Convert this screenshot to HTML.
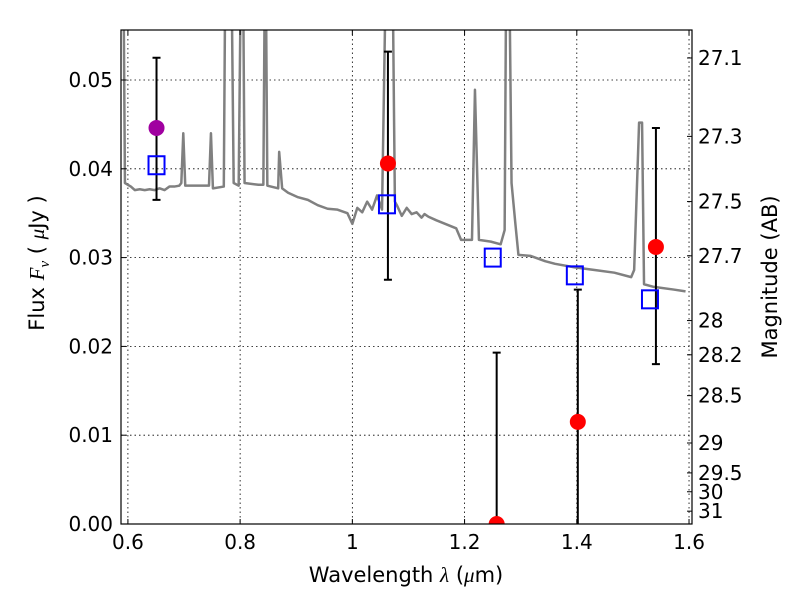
<!DOCTYPE html>
<html><head><meta charset="utf-8"><style>
body{margin:0;background:#fff;}
svg text{font-family:"DejaVu Sans","Liberation Sans",sans-serif;fill:#000;}
</style></head><body>
<svg id="chart" width="800" height="600" xmlns="http://www.w3.org/2000/svg">
<defs><clipPath id="clip"><rect x="121" y="30" width="571" height="494"/></clipPath></defs>
<g id="grid"></g>
<g id="spec" clip-path="url(#clip)"></g>
<g id="marks" clip-path="url(#clip)"></g>
<rect x="121" y="30" width="571" height="494" fill="none" stroke="#000" stroke-width="1.2"/>
<g id="axes"></g>
<text x="406" y="582" font-size="21" text-anchor="middle">Wavelength  <tspan font-style="italic" font-family="Liberation Serif">λ</tspan> (<tspan font-style="italic" font-family="Liberation Serif">μ</tspan>m)</text>
<text transform="translate(44,263) rotate(-90)" font-size="21" text-anchor="middle">Flux  <tspan font-style="italic" font-family="Liberation Serif">F<tspan font-size="15" dy="5">ν</tspan></tspan><tspan dy="-5">  ( </tspan><tspan font-style="italic" font-family="Liberation Serif">μ</tspan>Jy )</text>
<text transform="translate(777,277) rotate(-90)" font-size="21" text-anchor="middle">Magnitude (AB)</text>
</svg>
<script>
const xTicks=[0.6,0.8,1.0,1.2,1.4,1.6];
const xTickLabels=["0.6","0.8","1","1.2","1.4","1.6"];
const yTicks=[0,0.01,0.02,0.03,0.04,0.05];
const yTickLabels=["0.00","0.01","0.02","0.03","0.04","0.05"];
const magTicks=[27.1,27.3,27.5,27.7,28,28.2,28.5,29,29.5,30,31];
const magLabels=["27.1","27.3","27.5","27.7","28","28.2","28.5","29","29.5","30","31"];
const specLam=[0.5877,0.5912,0.5947,0.6,0.6053,0.6123,0.6211,0.630,0.6388,0.6476,0.6564,0.6652,0.6740,0.6828,0.6916,0.6952,0.6987,0.7022,0.7181,0.7357,0.7445,0.748,0.7515,0.7709,0.7744,0.7833,0.7885,0.7974,0.8026,0.8044,0.8079,0.8326,0.8414,0.8449,0.8485,0.8678,0.8696,0.8749,0.8855,0.9031,0.9207,0.9383,0.9559,0.9736,0.9912,1.0,1.0088,1.0176,1.0264,1.0352,1.044,1.0529,1.0617,1.0652,1.0705,1.0758,1.0793,1.0881,1.0969,1.1057,1.1145,1.1233,1.1286,1.1357,1.1498,1.185,1.1938,1.2132,1.2185,1.2256,1.2467,1.2643,1.2714,1.2749,1.2784,1.2837,1.2907,1.296,1.3172,1.3436,1.3612,1.3965,1.4317,1.4670,1.4969,1.5022,1.511,1.5163,1.5198,1.5374,1.5727,1.5938];
const specFlux=[0.07,0.07,0.0384,0.0382,0.0380,0.0376,0.0377,0.0376,0.0377,0.0376,0.0378,0.0376,0.0380,0.0380,0.0381,0.0384,0.0440,0.0381,0.0381,0.0381,0.0381,0.0440,0.0378,0.0380,0.07,0.07,0.0384,0.0381,0.07,0.07,0.0384,0.0382,0.0382,0.07,0.0381,0.0378,0.0419,0.0378,0.0373,0.0368,0.0365,0.0359,0.0355,0.0354,0.0350,0.0338,0.0356,0.0351,0.0363,0.0354,0.0370,0.0354,0.07,0.07,0.07,0.0363,0.0359,0.0347,0.0356,0.0349,0.0351,0.0345,0.0349,0.0346,0.0342,0.0333,0.0320,0.0320,0.0489,0.0320,0.0318,0.0315,0.0331,0.07,0.07,0.0384,0.0337,0.0303,0.0302,0.0296,0.0293,0.0289,0.0286,0.0283,0.0278,0.0286,0.0452,0.0452,0.0270,0.0267,0.0264,0.0262];
const modelLam=[0.651,1.0617,1.2502,1.3965,1.5304];
const modelFlux=[0.0404,0.0360,0.0300,0.0280,0.0253];
const obsLam=[0.651,1.0634,1.2572,1.4018,1.5410];
const obsFlux=[0.0446,0.0406,0.0,0.0115,0.0312];
const obsErrLo=[0.0365,0.0275,-0.01,-0.01,0.0180];
const obsErrHi=[0.0525,0.0532,0.0193,0.0264,0.0446];
const obsColor=["#a000a0","#ff0000","#ff0000","#ff0000","#ff0000"];

const X0=121,X1=692,Y0=524,Y1=30,xmin=0.5877,xmax=1.6053,ymin=0,ymax=0.05563;
const sx=v=>X0+(v-xmin)/(xmax-xmin)*(X1-X0);
const sy=v=>Y0-(v-ymin)/(ymax-ymin)*(Y0-Y1);
const magToFlux=m=>Math.pow(10,(23.9-m)/2.5);
const NS="http://www.w3.org/2000/svg";
function mk(tag,attrs,parent){const e=document.createElementNS(NS,tag);for(const k in attrs)e.setAttribute(k,attrs[k]);parent.appendChild(e);return e;}
const grid=document.getElementById('grid'),axes=document.getElementById('axes'),spec=document.getElementById('spec'),marks=document.getElementById('marks');
xTicks.forEach((t,i)=>{const x=sx(t);
 const g=mk('line',{x1:x,x2:x,y1:Y1,y2:Y0,stroke:'#000','stroke-dasharray':'1.5,3','stroke-width':0.8},grid);
 
 
 mk('line',{x1:x,x2:x,y1:Y0,y2:Y0-5,stroke:'#000'},axes);
 mk('line',{x1:x,x2:x,y1:Y1,y2:Y1+5,stroke:'#000'},axes);
 const tx=mk('text',{x:x,y:Y0+25,'font-size':20,'text-anchor':'middle'},axes);tx.textContent=xTickLabels[i];
 
 
});
yTicks.forEach((t,i)=>{const y=sy(t);
 const g=mk('line',{x1:X0,x2:X1,y1:y,y2:y,stroke:'#000','stroke-dasharray':'1.5,3','stroke-width':0.8},grid);
 
 
 mk('line',{x1:X0,x2:X0+5,y1:y,y2:y,stroke:'#000'},axes);
 const tx=mk('text',{x:X0-8,y:y+7,'font-size':20,'text-anchor':'end'},axes);tx.textContent=yTickLabels[i];
 
 
});
magTicks.forEach((m,i)=>{const y=sy(magToFlux(m));
 mk('line',{x1:X1-5,x2:X1,y1:y,y2:y,stroke:'#000'},axes);
 const tx=mk('text',{x:X1+6,y:y+7,'font-size':20},axes);tx.textContent=magLabels[i];
 
 
});
const pl=mk('polyline',{points:specLam.map((l,i)=>sx(l)+','+sy(specFlux[i])).join(' '),fill:'none',stroke:'#808080','stroke-width':2.5,'stroke-linejoin':'round'},spec);


obsLam.forEach((l,i)=>{const x=sx(l);
 const e=mk('path',{d:`M${x},${sy(obsErrLo[i])}V${sy(obsErrHi[i])}M${x-4},${sy(obsErrHi[i])}H${x+4}M${x-4},${sy(obsErrLo[i])}H${x+4}`,stroke:'#000','stroke-width':2,fill:'none'},marks);
 
 
});
modelLam.forEach((l,i)=>{
 const r=mk('rect',{x:sx(l)-8,y:sy(modelFlux[i])-9,width:16,height:18,fill:'none',stroke:'#0000ff','stroke-width':2},marks);
 
 
});
obsLam.forEach((l,i)=>{
 const c=mk('circle',{cx:sx(l),cy:sy(obsFlux[i]),r:8,fill:obsColor[i]},marks);
 
 
});
</script>
</body></html>
